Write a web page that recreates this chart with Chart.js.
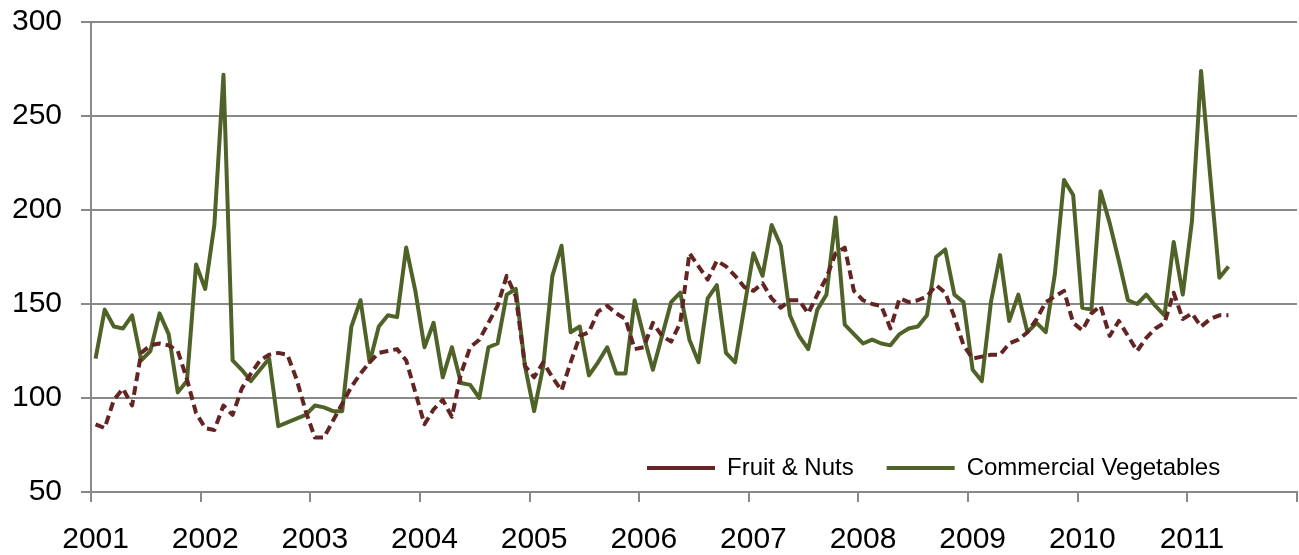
<!DOCTYPE html>
<html>
<head>
<meta charset="utf-8">
<script src="https://cdn.jsdelivr.net/npm/chart.js@4.4.1/dist/chart.umd.min.js"></script>
<style>
  html, body { margin: 0; padding: 0; background: #ffffff; }
  #wrap { width: 1299px; height: 555px; position: relative; }
</style>
</head>
<body>
<div id="wrap"><canvas id="c" width="1299" height="555"></canvas></div>
<script>
// ---- data ----
const years = ['2001','2002','2003','2004','2005','2006','2007','2008','2009','2010','2011'];
const monthNames = ['Jan','Feb','Mar','Apr','May','Jun','Jul','Aug','Sep','Oct','Nov','Dec'];
const yTicks = [50, 100, 150, 200, 250, 300];

// Monthly index, Jan 2001 - May 2011
const fruitNuts = [
  86, 84, 99, 105, 96, 124, 128, 129, 128, 125,
  110, 92, 84, 83, 96, 91, 105, 113, 120, 123,
  124, 123, 110, 93, 79, 79, 88, 97, 106, 113,
  119, 124, 125, 126, 120, 103, 86, 94, 99, 90,
  113, 127, 131, 140, 149, 165, 154, 117, 111, 119,
  111, 104, 119, 133, 135, 146, 149, 145, 142, 126,
  127, 140, 133, 130, 140, 177, 170, 163, 173, 170,
  165, 159, 157, 161, 153, 148, 152, 152, 145, 155,
  164, 177, 180, 157, 152, 150, 149, 137, 153, 151,
  152, 154, 160, 156, 143, 128, 121, 122, 123, 123,
  129, 131, 135, 142, 151, 154, 157, 140, 136, 145,
  149, 133, 141, 133, 125, 132, 137, 140, 156, 142,
  145, 138, 142, 144, 144
];
const commercialVegetables = [
  121, 147, 138, 137, 144, 120, 125, 145, 134, 103,
  109, 171, 158, 192, 272, 120, 115, 109, 115, 121,
  85, 87, 89, 91, 96, 95, 93, 93, 138, 152,
  119, 138, 144, 143, 180, 157, 127, 140, 111, 127,
  108, 107, 100, 127, 129, 155, 158, 117, 93, 117,
  165, 181, 135, 138, 112, 119, 127, 113, 113, 152,
  133, 115, 133, 151, 156, 131, 119, 153, 160, 124,
  119, 148, 177, 165, 192, 181, 144, 133, 126, 147,
  155, 196, 139, 134, 129, 131, 129, 128, 134, 137,
  138, 144, 175, 179, 155, 151, 115, 109, 151, 176,
  141, 155, 135, 140, 135, 166, 216, 208, 148, 147,
  210, 193, 173, 152, 150, 155, 149, 144, 183, 155,
  194, 274, 218, 164, 170
];

// category table built from the named arrays (full years on the axis)
const categories = [];
years.forEach(y => monthNames.forEach(m => categories.push(m + ' ' + y)));

// ---- style ----
const FONT = '"Liberation Sans", Arial, Helvetica, sans-serif';
const GRID = '#898989';
const RED = '#632523';
const GREEN = '#4F6228';

const legendInside = {
  id: 'legendInside',
  afterInit(chart) {
    const leg = chart.legend;
    if (!leg || leg._patched) return;
    const origFit = leg.fit;
    leg.fit = function () { origFit.apply(this, arguments); this.height = 0; };
    leg._patched = true;
  },
  afterLayout(chart) {
    const leg = chart.legend;
    if (!leg) return;
    leg.left = 614; leg.right = 1299;
    leg.top = 423; leg.bottom = 555;
    leg.width = leg.right - leg.left;
    leg.height = leg.bottom - leg.top;
  }
};

new Chart(document.getElementById('c'), {
  type: 'line',
  data: {
    labels: categories,
    datasets: [
      {
        label: 'Fruit & Nuts',
        data: fruitNuts,
        borderColor: RED,
        backgroundColor: RED,
        borderWidth: 4,
        borderDash: [9, 5],
        borderJoinStyle: 'round',
        pointRadius: 0,
        tension: 0,
        fill: false
      },
      {
        label: 'Commercial Vegetables',
        data: commercialVegetables,
        borderColor: GREEN,
        backgroundColor: GREEN,
        borderWidth: 4,
        borderJoinStyle: 'round',
        pointRadius: 0,
        tension: 0,
        fill: false
      }
    ]
  },
  options: {
    responsive: false,
    animation: false,
    devicePixelRatio: 1,
    layout: { padding: { top: 22, right: 2, left: 0, bottom: 0 } },
    plugins: {
      tooltip: { enabled: false },
      legend: {
        display: true,
        position: 'top',
        align: 'start',
        labels: {
          usePointStyle: true,
          pointStyle: 'line',
          pointStyleWidth: 68,
          boxHeight: 24,
          padding: 33,
          color: '#000000',
          font: { family: FONT, size: 24 }
        }
      }
    },
    scales: {
      x: {
        type: 'category',
        offset: true,
        grid: {
          display: true,
          drawOnChartArea: false,
          drawTicks: true,
          tickLength: 10,
          offset: true,
          lineWidth: 2,
          color: (c) => (c.index === undefined || c.index % 12 === 0) ? GRID : 'rgba(0,0,0,0)'
        },
        border: { display: true, color: GRID, width: 2 },
        ticks: {
          autoSkip: false,
          maxRotation: 0,
          minRotation: 0,
          padding: 20,
          color: '#000000',
          font: { family: FONT, size: 30 },
          callback: (v, i) => (i % 12 === 0 ? years[i / 12] : '')
        },
        afterFit: (s) => { s.height = 63; s.paddingLeft = 0; s.paddingRight = 0; }
      },
      y: {
        min: 50,
        max: 300,
        afterBuildTicks: (s) => { s.ticks = yTicks.map(v => ({ value: v })); },
        ticks: {
          padding: 19,
          color: '#000000',
          font: { family: FONT, size: 30 }
        },
        grid: { color: GRID, lineWidth: 2, tickLength: 10, drawTicks: true },
        border: { display: true, color: GRID, width: 2 },
        afterFit: (s) => { s.width = 91; s.paddingTop = 0; s.paddingBottom = 0; }
      }
    }
  },
  plugins: [legendInside]
});
</script>
</body>
</html>
